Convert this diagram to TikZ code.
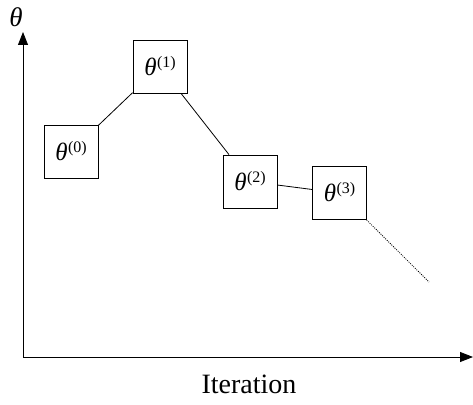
\documentclass[tikz,border=0pt]{standalone}
\usepackage{fontspec}
\setmainfont{Liberation Serif}
\usetikzlibrary{arrows.meta}
\tikzset{
  iterbox/.style={draw, line width=0.8pt, minimum width=54pt, minimum height=53pt, inner sep=0pt, font=\fontsize{25}{27}\selectfont},
  axis/.style={line width=0.8pt, -{Triangle[length=13pt,width=10pt]}},
  link/.style={line width=0.8pt},
  dotlink/.style={line width=0.8pt, dash pattern=on 1pt off 1.2pt},
}
\newcommand{\thit}[1]{{\itshape θ}\kern0.5pt\raisebox{8pt}[0pt][0pt]{\fontsize{16}{16}\selectfont(#1)}}
\begin{document}
\begin{tikzpicture}[x=1pt,y=-1pt]
\useasboundingbox (0,0) rectangle (473,404);
\coordinate (o) at (23,357);
\coordinate (ytip) at (23,32);
\coordinate (xtip) at (473,357);
\draw[axis] (o) -- (ytip);
\draw[axis] (o) -- (xtip);
\node[font=\fontsize{27}{29}\selectfont\itshape] (ylab) at (16,17) {θ};
\node[font=\fontsize{28}{30}\selectfont] (xlab) at (249,384) {Iteration};
\node[iterbox] (b0) at (71,151.5) {\thit{0}};
\node[iterbox] (b1) at (160,66.5) {\thit{1}};
\node[iterbox] (b2) at (250,181.5) {\thit{2}};
\node[iterbox] (b3) at (339.5,193) {\thit{3}};
\coordinate (tail) at (429,282);
\draw[link] (b0) -- (b1);
\draw[link] (b1) -- (b2);
\draw[link] (b2) -- (b3);
\draw[dotlink] (b3) -- (tail);
\end{tikzpicture}
\end{document}
